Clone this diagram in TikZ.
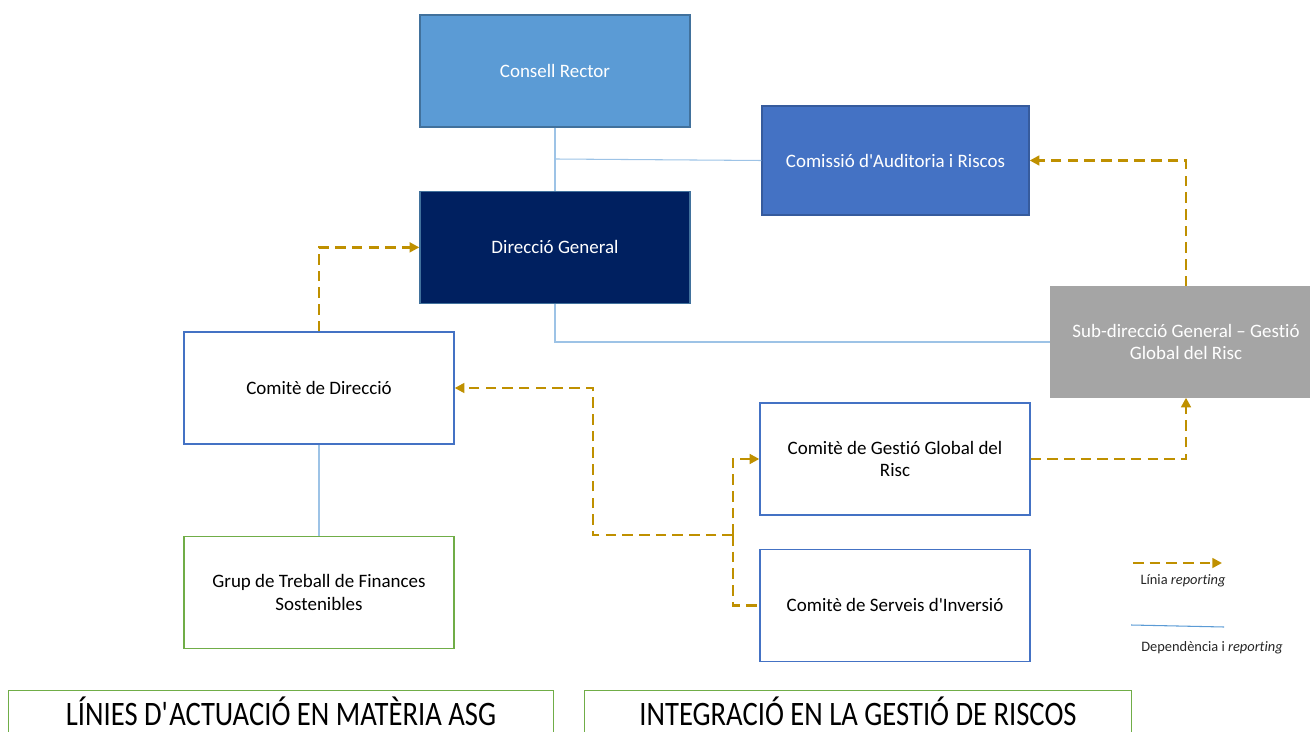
\documentclass[tikz,border=0pt]{standalone}
\usepackage{fontspec}
\setmainfont{Carlito}[Ligatures=NoCommon]
\newfontfamily\condfont[FakeStretch=0.835]{Carlito}
\usetikzlibrary{arrows.meta,positioning}
\definecolor{rectorblue}{HTML}{5B9BD5}
\definecolor{auditblue}{HTML}{4472C4}
\definecolor{navyblue}{HTML}{002060}
\definecolor{edgeblue}{HTML}{41719C}
\definecolor{riskgray}{HTML}{A5A5A5}
\definecolor{frameblue}{HTML}{4472C4}
\definecolor{framegreen}{HTML}{70AD47}
\definecolor{reportgold}{HTML}{BF9000}
\definecolor{dependblue}{HTML}{9DC3E6}

\begin{document}
\begin{tikzpicture}[x=0.02cm,y=-0.02cm,
	orgbox/.style={rectangle,draw,line width=0.8pt,minimum width=5.4cm,minimum height=2.24cm,align=flush center,text width=4.7cm,font=\fontsize{10.8}{13}\selectfont},
	areabox/.style={rectangle,minimum height=0.8cm,font=\condfont\fontsize{19.5}{22}\selectfont},
	areaframe/.style={draw=framegreen,line width=0.8pt},
	report/.style={draw=reportgold,line width=1.6pt,dash pattern=on 6pt off 3.5pt},
	depend/.style={draw=dependblue,line width=0.6pt},
	tip/.style={-{Triangle[length=5.5pt,width=5.5pt]}},
	legendtext/.style={font=\fontsize{8.2}{10}\selectfont,text=black!85}]
	\clip (0,0) rectangle (1310,732);

	\node[orgbox,fill=rectorblue,draw=edgeblue,text=white] (rector) at (555,71) {Consell Rector};
	\node[orgbox,fill=navyblue,draw=edgeblue,text=white,below=1.26cm of rector] (direccio) {Direcció General};
	\node[orgbox,fill=auditblue,draw=auditblue!80!black,text=white,minimum width=5.34cm,minimum height=2.18cm] (comissio) at (895.5,160.5) {Comissió d\textquotesingle{}Auditoria i Riscos};
	\node[orgbox,fill=riskgray,draw=riskgray,text=white,minimum height=2.2cm,text width=4.8cm] (subdir) at (1186,342) {Sub-direcció General -- Gestió Global del Risc};

	\node[orgbox,draw=frameblue] (comdir) at (319,388) {Comitè de Direcció};
	\node[orgbox,draw=framegreen,below=1.82cm of comdir] (grup) {Grup de Treball de Finances Sostenibles};
	\node[orgbox,draw=frameblue] (gestio) at (895,459) {Comitè de Gestió Global del Risc};
	\node[orgbox,draw=frameblue,below=0.66cm of gestio] (serveis) {Comitè de Serveis d\textquotesingle{}Inversió};

	\node[areabox,minimum width=10.88cm] (asg) at (281,711) {LÍNIES D\textquotesingle{}ACTUACIÓ EN MATÈRIA ASG};
	\node[areabox,minimum width=10.92cm] (riscos) at (858,711) {INTEGRACIÓ EN LA GESTIÓ DE RISCOS};
	\draw[areaframe] (asg.south west) -- (asg.north west) -- (asg.north east) -- (asg.south east);
	\draw[areaframe] (riscos.south west) -- (riscos.north west) -- (riscos.north east) -- (riscos.south east);

	% dependencia
	\coordinate (rj) at (555,159);
	\draw[depend] (rector) -- (direccio);
	\draw[depend] (rj) -- (comissio.west);
	\draw[depend] (direccio.south) |- (subdir.west);
	\draw[depend] (comdir) -- (grup);

	% reporting
	\draw[report,tip] (comdir.north) |- (direccio.west);
	\draw[report,tip] (gestio.east) -| (subdir.south);
	\draw[report,tip] (subdir.north) |- (comissio.east);
	\coordinate (jn) at (733,535);
	\coordinate (jw) at (593,535);
	\draw[report,tip] (jn) -- (jw) |- (comdir.east);
	\draw[report,tip] (jn) |- (gestio.west);
	\draw[report] (jn) |- (serveis.west);

	% llegenda
	\coordinate (lga) at (1133,563);
	\coordinate (lgb) at (1222,563);
	\draw[report,tip] (lga) -- (lgb);
	\node[legendtext] (lgreport) at (1183,581) {Línia \textit{reporting}};
	\coordinate (lgc) at (1131,625);
	\coordinate (lgd) at (1224,627);
	\draw[depend,draw=rectorblue] (lgc) -- (lgd);
	\node[legendtext] (lgdepend) at (1212,648) {Dependència i \textit{reporting}};
\end{tikzpicture}
\end{document}
